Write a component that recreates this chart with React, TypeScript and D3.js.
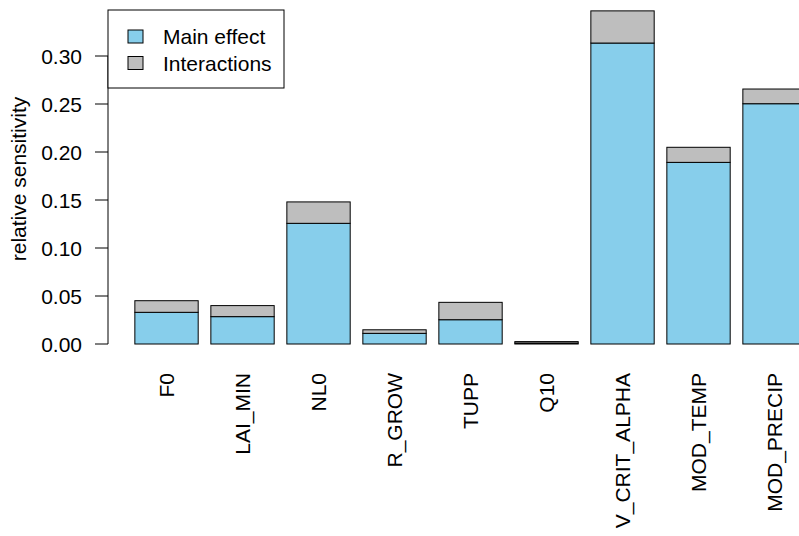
import React from "react";
import * as d3 from "d3";

// Parameters and their first-order / interaction sensitivity shares
const categories = ["F0", "LAI_MIN", "NL0", "R_GROW", "TUPP", "Q10", "V_CRIT_ALPHA", "MOD_TEMP", "MOD_PRECIP"];
const mainEffect = [0.033, 0.0285, 0.1257, 0.0111, 0.0253, 0.001, 0.3135, 0.1892, 0.2503];
const interactions = [0.0121, 0.0115, 0.0223, 0.0037, 0.0181, 0.0015, 0.0335, 0.0157, 0.0153];
const yTicks = [0, 0.05, 0.1, 0.15, 0.2, 0.25, 0.3];
const legendLabels = ["Main effect", "Interactions"];
const fills = ["#87CEEB", "#BEBEBE"];

const W = 799;
const H = 536;
const FONT = "'Liberation Sans', Arial, Helvetica, sans-serif";
const FS = 21;

export default function App() {
  // bar layout in R barplot units: width 1, space 0.2
  const n = categories.length;
  const lo = 0.2;
  const hi = 1.2 * n;
  const pad = (hi - lo) * 0.04;
  const x = d3.scaleLinear().domain([lo - pad, hi + pad]).range([108, 108 + (hi - lo + 2 * pad) * 63.333]);
  const y = d3.scaleLinear().domain([0, 0.3]).range([344, 56]);
  const stack = d3.stack<number>().keys(["main", "inter"]).value((i, k) => (k === "main" ? mainEffect[i] : interactions[i]));
  const series = stack(d3.range(n));

  return (
    <svg width={W} height={H} style={{ position: "absolute", left: 0, top: 0, background: "#fff" }} fontFamily={FONT}>
      {series.map((s, si) => (
        <g key={si}>
          {s.map((d, i) => {
            const x0 = x(0.2 + 1.2 * i);
            const x1 = x(1.2 + 1.2 * i);
            return (
              <rect
                key={i}
                x={x0}
                y={y(d[1])}
                width={x1 - x0}
                height={y(d[0]) - y(d[1])}
                fill={fills[si]}
                stroke="#000"
                strokeWidth={1}
              />
            );
          })}
        </g>
      ))}

      {/* y axis */}
      <line x1={108} x2={108} y1={y(0)} y2={y(0.3)} stroke="#000" />
      {yTicks.map((t) => (
        <g key={t}>
          <line x1={95} x2={108} y1={y(t)} y2={y(t)} stroke="#000" />
          <text x={82} y={y(t)} dy="0.36em" textAnchor="end" fontSize={FS}>
            {t.toFixed(2)}
          </text>
        </g>
      ))}
      <text transform={`translate(26, ${179}) rotate(-90)`} textAnchor="middle" fontSize={FS}>
        relative sensitivity
      </text>

      {/* category labels */}
      {categories.map((c, i) => {
        const cx = x(0.7 + 1.2 * i);
        return (
          <text key={c} transform={`translate(${cx}, 373) rotate(-90)`} dy="0.36em" textAnchor="end" fontSize={FS}>
            {c}
          </text>
        );
      })}

      {/* legend */}
      <rect x={108} y={10} width={176} height={78} fill="#fff" stroke="#000" />
      {legendLabels.map((l, i) => (
        <g key={l}>
          <rect x={128} y={30 + i * 26.5} width={15} height={13} fill={fills[i]} stroke="#000" />
          <text x={163} y={36.5 + i * 26.5} dy="0.36em" fontSize={FS}>
            {l}
          </text>
        </g>
      ))}
    </svg>
  );
}
